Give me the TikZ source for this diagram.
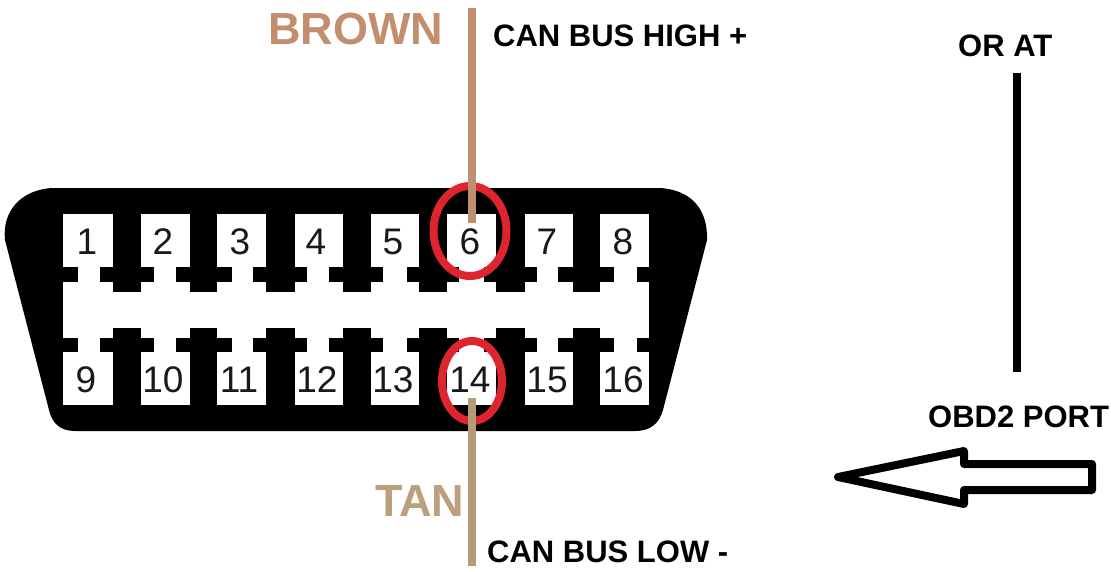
\documentclass[tikz,border=0pt]{standalone}
\usepackage{fontspec}
\usetikzlibrary{shapes.geometric}
\setmainfont{Liberation Sans}
\definecolor{brownwire}{RGB}{193,143,110}
\definecolor{tanwire}{RGB}{180,156,122}
\definecolor{brownlabel}{RGB}{193,143,110}
\definecolor{tanlabel}{RGB}{186,160,126}
\definecolor{ringred}{RGB}{222,36,46}
\definecolor{digitgrey}{RGB}{25,25,25}
\tikzset{
  pinnum/.style={font=\fontsize{37}{37}\selectfont,text=digitgrey,inner sep=0pt,anchor=base},
  lab/.style={font=\fontsize{31}{31}\selectfont\bfseries,text=black,inner sep=0pt,anchor=base west},
  biglab/.style={font=\fontsize{45}{45}\selectfont\bfseries,inner sep=0pt,anchor=base west},
  wire/.style={line width=8pt},
  ring/.style={draw=ringred,line width=8pt},
  finger/.style={fill=black,draw=none}
}
\begin{document}
\begin{tikzpicture}[x=1pt,y=-1pt]
\useasboundingbox (0,0) rectangle (1111,571);
\fill[white] (0,0) rectangle (1111,571);
% connector shell
\fill[black] (52,188) -- (660,188) .. controls (692,190) and (708,210) .. (707,240)
  -- (663,410) .. controls (659,424) and (650,431) .. (635,431) -- (75,431)
  .. controls (60,431) and (52,423) .. (49,410) -- (5,240) .. controls (2,212) and (20,190) .. (52,188) -- cycle;
% cavity
\fill[white] (63,214) rectangle (649,405);
% fingers: stem x1,x2; bar x1,x2
\foreach \sa/\sb/\ba/\bb in {113/141/100/154,190/217/176/232,266/295/253/307,343/371/329/383,419/447/407/459,496/525/484/537,573/600/558/614}{
  \fill[finger] (\sa,214) rectangle (\sb,292);
  \fill[finger] (\ba,267) rectangle (\bb,282);
  \fill[finger] (\sa,328) rectangle (\sb,405);
  \fill[finger] (\ba,338) rectangle (\bb,352);
}
\fill[finger] (63,267) rectangle (78,282);
\fill[finger] (63,338) rectangle (78,352);
\fill[finger] (637,267) rectangle (649,282);
\fill[finger] (637,338) rectangle (649,352);
% pin numbers
\foreach \n/\x in {1/87,2/163,3/240,4/316,5/393,6/470,7/547,8/623}{
  \node[pinnum] (p\n) at (\x,254) {\n};
}
\foreach \n/\x in {9/86,10/163,11/239,12/317,13/393,14/470,15/547,16/623}{
  \node[pinnum] (p\n) at (\x,392) {\n};
}
% rings
\node[ring,ellipse,minimum width=73pt,minimum height=90pt,inner sep=0pt] (r6) at (470,231) {};
\node[ring,ellipse,minimum width=60pt,minimum height=80pt,inner sep=0pt] (r14) at (472,381) {};
% wires
\coordinate (w6top) at (472,8);
\coordinate (w6end) at (472,223);
\coordinate (w14end) at (472,398);
\coordinate (w14bot) at (472,566);
\draw[wire,brownwire] (w6top) -- (w6end);
\draw[wire,tanwire] (w14end) -- (w14bot);
% labels
\node[biglab,text=brownlabel] (brown) at (268,44) {BROWN};
\node[biglab,text=tanlabel] (tan) at (375,516) {TAN};
\node[lab] (high) at (493,46) {CAN BUS HIGH +};
\node[lab] (low) at (487,562) {CAN BUS LOW -};
\node[lab] (orat) at (958,56) {OR AT};
\node[lab] (port) at (928,427) {OBD2 PORT};
% thick line
\coordinate (la) at (1016.5,73);
\coordinate (lb) at (1016.5,372);
\draw[line width=8pt] (la) -- (lb);
% outline arrow
\draw[line width=8pt,line join=round] (838,477) -- (964,451) -- (964,464) -- (1092,464) -- (1092,490) -- (964,490) -- (964,504) -- cycle;
\end{tikzpicture}
\end{document}
